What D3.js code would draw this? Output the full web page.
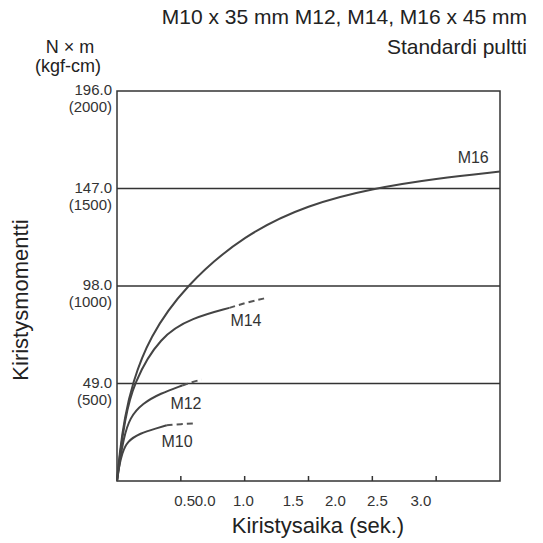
<!DOCTYPE html>
<html><head><meta charset="utf-8">
<script src="https://cdn.jsdelivr.net/npm/d3@7"></script>
<style>body{margin:0;background:#fff}svg{font-family:"Liberation Sans",Arial,sans-serif}</style>
</head><body><svg id="c" width="543" height="543"></svg>
<script>
const yTicks=[49,98,147,196];
const yTickLabels=["49.0","98.0","147.0","196.0"];
const yTickSub=["(500)","(1000)","(1500)","(2000)"];
const xTicks=[0.5,1.0,1.5,2.0,2.5];
const xLabels=["0.5","0.0","1.0","1.5","2.0","2.5","3.0"];
const xLabelPos=[0.53,0.69,0.99,1.38,1.71,2.04,2.38];
const seriesNames=["M16","M14","M12","M10"];
const solidT=[[0,0.02,0.06,0.12,0.25,0.53,1.0,1.5,2.0,2.5,3.0],[0,0.02,0.06,0.125,0.34,0.59,0.88],[0,0.02,0.05,0.1,0.2,0.34,0.51],[0,0.015,0.04,0.08,0.18,0.31,0.39]];
const solidV=[[0,14,32,49,72,98,124,139,147,152,155.5],[0,12,30,49,73,82,87],[0,9,21,32,39,44,48],[0,7,14,20,24,26.5,28]];
const dashT=[[],[0.88,1.03,1.17],[0.51,0.59,0.66],[0.39,0.5,0.62]];
const dashV=[[],[87,90,92],[48,49.7,51],[28,28.6,29]];
const labelT=[2.79,1.01,0.54,0.47];
const labelV=[160,78,36,17];

const svg=d3.select("#c");
const x=d3.scaleLinear().domain([0,3]).range([117,500]);
const y=d3.scaleLinear().domain([0,196]).range([481,91]);
const col="#333";
svg.append("rect").attr("x",x(0)).attr("y",y(196)).attr("width",x(3)-x(0)).attr("height",y(0)-y(196)).attr("fill","none").attr("stroke",col).attr("stroke-width",1.5);
svg.selectAll(".gl").data(yTicks.slice(0,3)).join("line").attr("x1",x(0)).attr("x2",x(3)).attr("y1",d=>y(d)).attr("y2",d=>y(d)).attr("stroke",col).attr("stroke-width",1.5);
svg.selectAll(".xt").data(xTicks).join("line").attr("x1",d=>x(d)).attr("x2",d=>x(d)).attr("y1",y(0)).attr("y2",y(0)-5).attr("stroke",col).attr("stroke-width",1.5);
svg.selectAll(".xl").data(xLabels).join("text").attr("x",(d,i)=>x(xLabelPos[i])).attr("y",y(0)+25).attr("text-anchor","middle").attr("font-size",15).attr("fill","#333").text(d=>d);
svg.selectAll(".yl").data(yTickLabels).join("text").attr("x",112).attr("y",d=>y(+d)+4).attr("text-anchor","end").attr("font-size",15).attr("fill","#333").text(d=>d);
svg.selectAll(".ys").data(yTickSub).join("text").attr("x",112).attr("y",(d,i)=>y(yTicks[i])+21).attr("text-anchor","end").attr("font-size",15).attr("fill","#333").text(d=>d);
const line=d3.line().x(d=>x(d[0])).y(d=>y(d[1])).curve(d3.curveBasis);
seriesNames.forEach((n,i)=>{
  svg.append("path").attr("d",line(solidT[i].map((t,j)=>[t,solidV[i][j]]))).attr("fill","none").attr("stroke","#444").attr("stroke-width",2);
  if(dashT[i].length) svg.append("path").attr("d",line(dashT[i].map((t,j)=>[t,dashV[i][j]]))).attr("fill","none").attr("stroke","#555").attr("stroke-width",2).attr("stroke-dasharray","6,4");
  svg.append("text").attr("x",x(labelT[i])).attr("y",y(labelV[i])).attr("text-anchor","middle").attr("font-size",16).attr("fill","#333").text(n);
});
svg.append("text").attr("x",527).attr("y",24).attr("text-anchor","end").attr("font-size",21).attr("fill","#222").text("M10 x 35 mm M12, M14, M16 x 45 mm");
svg.append("text").attr("x",527).attr("y",54).attr("text-anchor","end").attr("font-size",21).attr("fill","#222").text("Standardi pultti");
svg.append("text").attr("x",70).attr("y",53).attr("text-anchor","middle").attr("font-size",18).attr("fill","#222").text("N × m");
svg.append("text").attr("x",68).attr("y",72).attr("text-anchor","middle").attr("font-size",18).attr("fill","#222").text("(kgf-cm)");
svg.append("text").attr("transform","translate(28,300) rotate(-90)").attr("text-anchor","middle").attr("font-size",22).attr("fill","#222").text("Kiristysmomentti");
svg.append("text").attr("x",318).attr("y",533).attr("text-anchor","middle").attr("font-size",22).attr("fill","#222").text("Kiristysaika (sek.)");
</script></body></html>
